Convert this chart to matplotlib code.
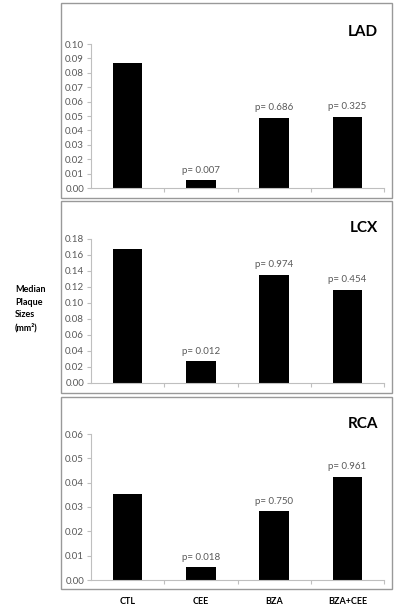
import numpy as np
import matplotlib.pyplot as plt
from matplotlib.patches import Rectangle

plt.rcParams['font.family'] = ['Lato', 'DejaVu Sans']

groups = ["CTL", "CEE", "BZA", "BZA+CEE"]
arteries = ["LAD", "LCX", "RCA"]
lad = [0.0866, 0.0055, 0.0487, 0.0494]
lcx = [0.168, 0.027, 0.1355, 0.1168]
rca = [0.0353, 0.0052, 0.0282, 0.0425]
lad_p = [None, "0.007", "0.686", "0.325"]
lcx_p = [None, "0.012", "0.974", "0.454"]
rca_p = [None, "0.018", "0.750", "0.961"]
ymax = [0.10, 0.18, 0.06]
ystep = [0.01, 0.02, 0.01]

values = [lad, lcx, rca]
pvals = [lad_p, lcx_p, rca_p]

W, H = 400, 616
fig = plt.figure(figsize=(W / 100, H / 100), dpi=100)

# panel frames (px): top, bottom ; axes (px): top of ymax, zero line
frames = [(3, 198), (201, 393), (397, 589)]
axes_px = [(44, 188), (239, 383), (434, 580)]
ax_left, ax_right = 91, 384
grey = "#595959"

for i, name in enumerate(arteries):
    ft, fb = frames[i]
    fig.patches.append(Rectangle((61 / W, 1 - fb / H), (392 - 61) / W, (fb - ft) / H,
                                 transform=fig.transFigure, fill=False,
                                 edgecolor="#999999", linewidth=1.0))
    at, ab = axes_px[i]
    ax = fig.add_axes([ax_left / W, 1 - ab / H, (ax_right - ax_left) / W, (ab - at) / H])
    x = np.arange(len(groups))
    ax.bar(x, values[i], width=0.4, color="black")
    for xi, v, p in zip(x, values[i], pvals[i]):
        if p is not None:
            ax.annotate("p= " + p, (xi, v), xytext=(0, 4), textcoords="offset points",
                        ha="center", va="bottom", fontsize=7, color=grey)
    ax.set_xlim(-0.5, 3.5)
    ax.set_ylim(0, ymax[i])
    ax.set_yticks(np.arange(0, ymax[i] + ystep[i] / 2, ystep[i]))
    ax.yaxis.set_major_formatter(plt.FormatStrFormatter("%.2f"))
    ax.tick_params(axis="y", labelsize=7, labelcolor=grey, color="#bfbfbf",
                   length=3, width=0.8, pad=2)
    ax.set_xticks(np.arange(0.5, 4, 1), minor=True)
    ax.tick_params(axis="x", which="minor", length=3, color="#bfbfbf", width=0.8)
    ax.set_xticks(x)
    if i == 2:
        ax.set_xticklabels(groups, fontsize=6.5, fontweight="bold")
        ax.tick_params(axis="x", which="major", length=0, pad=12)
    else:
        ax.set_xticklabels([])
        ax.tick_params(axis="x", which="major", length=0)
    for s in ["top", "right"]:
        ax.spines[s].set_visible(False)
    for s in ["left", "bottom"]:
        ax.spines[s].set_color("#bfbfbf")
        ax.spines[s].set_linewidth(0.8)
    ax.patch.set_alpha(0)
    title_y = [32, 228, 424][i]
    fig.text(378 / W, 1 - title_y / H, name, ha="right", va="center",
             fontsize=11, fontweight="bold")

fig.text(15 / W, 1 - 309 / H, "Median\nPlaque\nSizes\n(mm²)", ha="left", va="center",
         fontsize=6.5, fontweight="bold", linespacing=1.5)

fig.savefig("out.png", dpi=100, facecolor="white")
